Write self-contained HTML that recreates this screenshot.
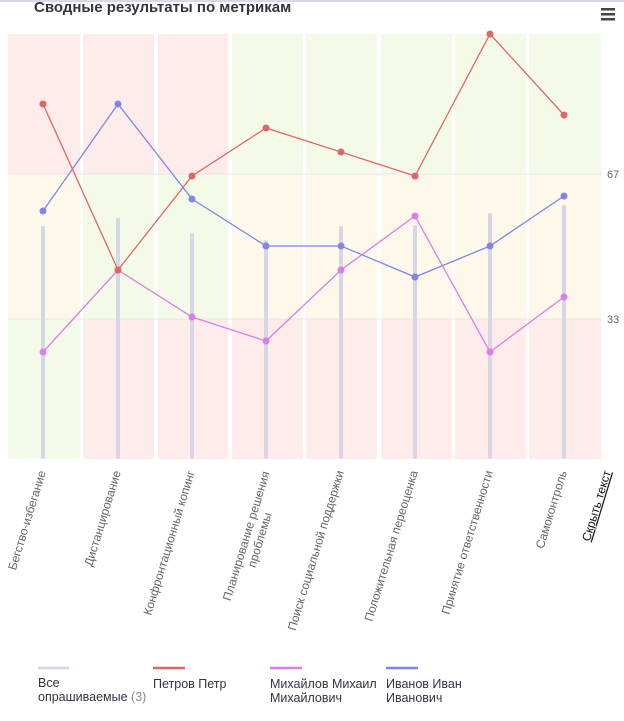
<!DOCTYPE html><html><head><meta charset="utf-8"><style>body{margin:0;background:#fff;width:624px;height:716px;overflow:hidden;font-family:"Liberation Sans",sans-serif}</style></head><body>
<svg width="624" height="716" xmlns="http://www.w3.org/2000/svg" font-family="Liberation Sans, sans-serif">
<rect x="0" y="0" width="624" height="2" fill="#d8d8ec"/>
<text x="34" y="12" font-size="15" font-weight="bold" fill="#333344">Сводные результаты по метрикам</text>
<g fill="#444"><rect x="601" y="8" width="14" height="2.5"/><rect x="601" y="13" width="14" height="2.5"/><rect x="601" y="18" width="14" height="2.5"/></g>
<g>
<rect x="8" y="34" width="72" height="140" fill="#fdecea"/><rect x="8" y="174" width="72" height="145" fill="#fdf8e9"/><rect x="8" y="319" width="72" height="140" fill="#f3fbe8"/>
<rect x="83" y="34" width="71" height="140" fill="#fdecea"/><rect x="83" y="174" width="71" height="145" fill="#f3fbe8"/><rect x="83" y="319" width="71" height="140" fill="#fdecea"/>
<rect x="158" y="34" width="70" height="140" fill="#fdecea"/><rect x="158" y="174" width="70" height="145" fill="#f3fbe8"/><rect x="158" y="319" width="70" height="140" fill="#fdecea"/>
<rect x="232" y="34" width="71" height="140" fill="#f3fbe8"/><rect x="232" y="174" width="71" height="145" fill="#fdf8e9"/><rect x="232" y="319" width="71" height="140" fill="#fdecea"/>
<rect x="306" y="34" width="71" height="140" fill="#f3fbe8"/><rect x="306" y="174" width="71" height="145" fill="#fdf8e9"/><rect x="306" y="319" width="71" height="140" fill="#fdecea"/>
<rect x="381" y="34" width="71" height="140" fill="#f3fbe8"/><rect x="381" y="174" width="71" height="145" fill="#fdf8e9"/><rect x="381" y="319" width="71" height="140" fill="#fdecea"/>
<rect x="455" y="34" width="71" height="140" fill="#f3fbe8"/><rect x="455" y="174" width="71" height="145" fill="#fdf8e9"/><rect x="455" y="319" width="71" height="140" fill="#fdecea"/>
<rect x="529" y="34" width="72" height="140" fill="#f3fbe8"/><rect x="529" y="174" width="72" height="145" fill="#fdf8e9"/><rect x="529" y="319" width="72" height="140" fill="#fdecea"/>
</g>
<line x1="8" y1="174" x2="601" y2="174" stroke="#e6e6ee" stroke-width="1"/>
<line x1="8" y1="319" x2="601" y2="319" stroke="#e6e6ee" stroke-width="1"/>
<text x="607" y="178" font-size="11" fill="#666">67</text>
<text x="607" y="323" font-size="11" fill="#666">33</text>
<g fill="#d6d6e6">
<rect x="41" y="226" width="4" height="233" rx="2"/><rect x="116" y="218" width="4" height="241" rx="2"/><rect x="190" y="233" width="4" height="226" rx="2"/><rect x="264" y="240" width="4" height="219" rx="2"/><rect x="339" y="226" width="4" height="233" rx="2"/><rect x="413" y="225" width="4" height="234" rx="2"/><rect x="488" y="213" width="4" height="246" rx="2"/><rect x="562" y="205" width="4" height="254" rx="2"/>
</g>
<g fill="none" stroke-width="1.3">
<polyline stroke="#e06666" points="43,104 118,270 192,176 266,128 341,152 415,176 490,34 564,115"/>
<polyline stroke="#7f86e8" points="43,211 118,104 192,199 266,246 341,246 415,277 490,246 564,196"/>
<polyline stroke="#d97fe6" points="43,352 118,270 192,317 266,341 341,270 415,216 490,352 564,297"/>
</g>
<g fill="#d97fe6"><circle cx="43" cy="352" r="3.5"/><circle cx="118" cy="270" r="3.5"/><circle cx="192" cy="317" r="3.5"/><circle cx="266" cy="341" r="3.5"/><circle cx="341" cy="270" r="3.5"/><circle cx="415" cy="216" r="3.5"/><circle cx="490" cy="352" r="3.5"/><circle cx="564" cy="297" r="3.5"/></g>
<g fill="#7f86e8"><circle cx="43" cy="211" r="3.5"/><circle cx="118" cy="104" r="3.5"/><circle cx="192" cy="199" r="3.5"/><circle cx="266" cy="246" r="3.5"/><circle cx="341" cy="246" r="3.5"/><circle cx="415" cy="277" r="3.5"/><circle cx="490" cy="246" r="3.5"/><circle cx="564" cy="196" r="3.5"/></g>
<g fill="#e06666"><circle cx="43" cy="104" r="3.5"/><circle cx="118" cy="270" r="3.5"/><circle cx="192" cy="176" r="3.5"/><circle cx="266" cy="128" r="3.5"/><circle cx="341" cy="152" r="3.5"/><circle cx="415" cy="176" r="3.5"/><circle cx="490" cy="34" r="3.5"/><circle cx="564" cy="115" r="3.5"/></g>
<g font-size="12" fill="#666" text-anchor="end">
<text transform="translate(46,472) rotate(-73)">Бегство-избегание</text>
<text transform="translate(121,472) rotate(-73)">Дистанцирование</text>
<text transform="translate(195,472) rotate(-73)">Конфронтационный копинг</text>
<g transform="translate(270,472) rotate(-73)" text-anchor="middle"><text x="-68" y="0">Планирование решения</text><text x="-68" y="14">проблемы</text></g>
<text transform="translate(344,472) rotate(-73)">Поиск социальной поддержки</text>
<text transform="translate(418,472) rotate(-73)">Положительная переоценка</text>
<text transform="translate(493,472) rotate(-73)">Принятие ответственности</text>
<text transform="translate(567,472) rotate(-73)">Самоконтроль</text>
<text transform="translate(611,472) rotate(-73)" fill="#111" text-decoration="underline">Скрыть текст</text>
</g>
<g stroke-width="2.5"><line x1="38" y1="668" x2="69" y2="668" stroke="#d6d6e6"/><line x1="153" y1="668" x2="185" y2="668" stroke="#e06666"/><line x1="270" y1="668" x2="302" y2="668" stroke="#d97fe6"/><line x1="386" y1="668" x2="418" y2="668" stroke="#7f86e8"/></g>
<g font-size="12.5" fill="#333344">
<text x="38" y="687">Все</text><text x="38" y="701">опрашиваемые <tspan fill="#888">(3)</tspan></text>
<text x="153" y="688">Петров Петр</text>
<text x="270" y="688">Михайлов Михаил</text><text x="270" y="702">Михайлович</text>
<text x="386" y="688">Иванов Иван</text><text x="386" y="702">Иванович</text>
</g>
</svg>
</body></html>
